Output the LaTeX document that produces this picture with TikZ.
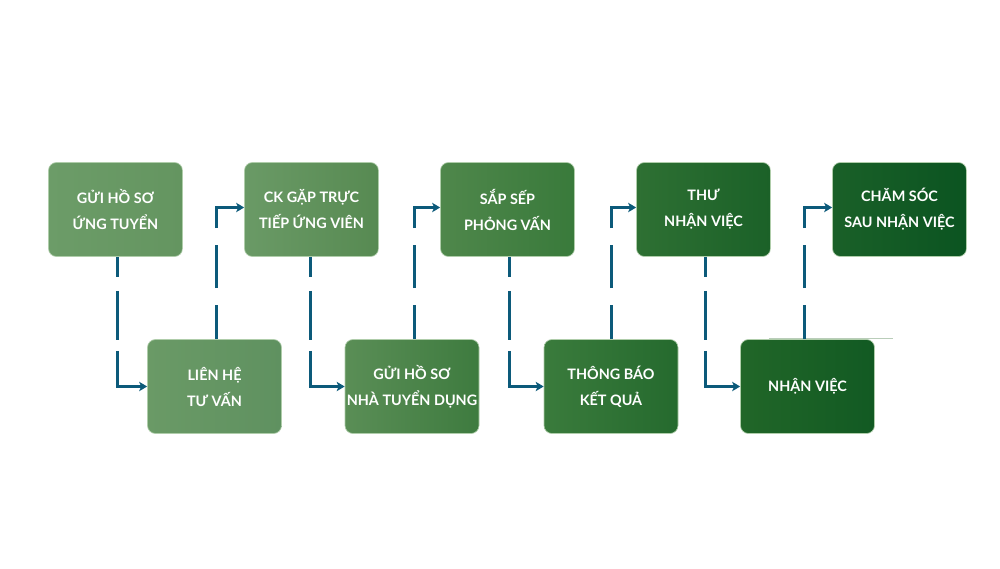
\documentclass[tikz,border=0pt]{standalone}
\usepackage{fontspec}
\setmainfont{Lato}
\usetikzlibrary{arrows.meta}
\definecolor{conn}{RGB}{12,90,122}
\definecolor{edgec}{RGB}{175,205,170}
\definecolor{artc}{RGB}{185,205,185}
\definecolor{cAl}{HTML}{6C9C68}\definecolor{cAr}{HTML}{649560}
\definecolor{cBl}{HTML}{6A9A66}\definecolor{cBr}{HTML}{5F9160}
\definecolor{cCl}{HTML}{6A9A66}\definecolor{cCr}{HTML}{578A52}
\definecolor{cDl}{HTML}{5A8E56}\definecolor{cDr}{HTML}{3E7B3F}
\definecolor{cEl}{HTML}{4F874B}\definecolor{cEr}{HTML}{397A3B}
\definecolor{cFl}{HTML}{3A7B3C}\definecolor{cFr}{HTML}{256A2E}
\definecolor{cGl}{HTML}{2E7033}\definecolor{cGr}{HTML}{1B6128}
\definecolor{cHl}{HTML}{216628}\definecolor{cHr}{HTML}{125A23}
\definecolor{cIl}{HTML}{1A6028}\definecolor{cIr}{HTML}{0B5421}
\tikzset{
  stepbox/.style 2 args={draw=edgec, line width=0.5pt, rounded corners=6pt,
    minimum width=100.5pt, minimum height=70.5pt, inner sep=0pt, align=center,
    text=white, font=\bfseries\fontsize{10.8}{19.5}\selectfont,
    left color=#1, right color=#2},
  linkbase/.style={conn, line width=2.25pt, -{Stealth[length=6pt,width=7pt,inset=1.5pt]}},
  linkdown/.style={linkbase, dash pattern=on 15pt off 10.5pt on 36.75pt off 8.25pt on 400pt},
  linkup/.style={linkbase, dash pattern=on 25.5pt off 12.75pt on 32.25pt off 12.75pt on 400pt},
}
\begin{document}
\begin{tikzpicture}[x=0.75pt,y=-0.75pt]
\fill[white] (0,0) rectangle (1000,568);
\useasboundingbox (0,0) rectangle (1000,568);
% top row
\node[stepbox={cAl}{cAr}] (t1) at (115.5,209.5) {GỬI HỒ SƠ\\ỨNG TUYỂN};
\node[stepbox={cCl}{cCr}] (t2) at (311.5,209.5) {CK GẶP TRỰC\\TIẾP ỨNG VIÊN};
\node[stepbox={cEl}{cEr}] (t3) at (507.5,209.5) {SẮP SẾP\\PHỎNG VẤN};
\node[stepbox={cGl}{cGr}] (t4) at (703.5,209.5) {THƯ\\NHẬN VIỆC};
\node[stepbox={cIl}{cIr}] (t5) at (899.5,209.5) {CHĂM SÓC\\SAU NHẬN VIỆC};
% bottom row
\node[stepbox={cBl}{cBr}] (b1) at (214.5,386.5) {LIÊN HỆ\\TƯ VẤN};
\node[stepbox={cDl}{cDr}] (b2) at (412,386.5) {GỬI HỒ SƠ\\NHÀ TUYỂN DỤNG};
\node[stepbox={cFl}{cFr}] (b3) at (611,386.5) {THÔNG BÁO\\KẾT QUẢ};
\node[stepbox={cHl}{cHr}] (b4) at (807.5,386.5) {NHẬN VIỆC};
% thin stray line above last bottom box
\draw[artc, line width=0.75pt] ([xshift=-79.5pt,yshift=0.4pt]b4.north east) -- ++(124,0);
% connectors
\draw[linkdown] ([xshift=1.5pt]t1.south) |- (b1.west);
\draw[linkup]   ([xshift=1.5pt]b1.north) |- ([yshift=1.5pt]t2.west);
\draw[linkdown] ([xshift=-0.5pt]t2.south) |- (b2.west);
\draw[linkup]   ([xshift=2pt]b2.north) |- ([yshift=1.5pt]t3.west);
\draw[linkdown] ([xshift=1.5pt]t3.south) |- (b3.west);
\draw[linkup]   ([xshift=0pt]b3.north) |- ([yshift=1.5pt]t4.west);
\draw[linkdown] ([xshift=1.5pt]t4.south) |- (b4.west);
\draw[linkup]   ([xshift=-2pt]b4.north) |- ([yshift=1.5pt]t5.west);
\end{tikzpicture}
\end{document}
